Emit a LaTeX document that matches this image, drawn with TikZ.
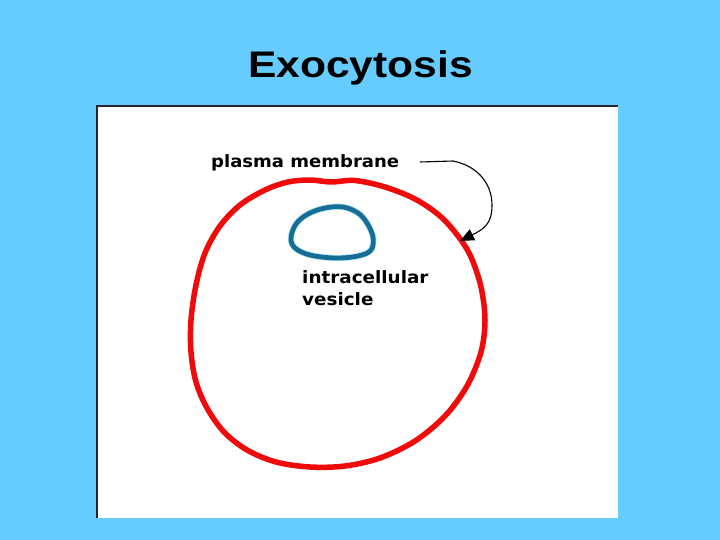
\documentclass[tikz,border=0pt]{standalone}
\usepackage{fontspec}
\usepackage{graphicx}
\setmainfont{Liberation Sans}
\newfontfamily\labelfont{DejaVu Sans}
\usetikzlibrary{arrows.meta}
\definecolor{slidebg}{RGB}{102,204,255}
\definecolor{membred}{RGB}{240,10,10}
\definecolor{vesblue}{RGB}{22,110,150}
\definecolor{veshalo}{RGB}{190,238,250}
\tikzset{
  lbl/.style={inner sep=0pt, font=\labelfont\bfseries\fontsize{17}{20}\selectfont, text=black},
  ttl/.style={inner sep=0pt, font=\bfseries\fontsize{37}{40}\selectfont, text=black},
  pointer/.style={line width=1.1pt, -{Triangle[length=14pt,width=12pt]}}
}
\begin{document}
\begin{tikzpicture}[x=1pt,y=-1pt]
\useasboundingbox (0,0) rectangle (720,540);
\fill[slidebg] (0,0) rectangle (720,540);
% white panel with dark top-left edge
\fill[white] (96,105) rectangle (618,518);
\draw[black!85, line width=2.5pt] (97.2,518) -- (97.2,106.2) -- (618,106.2);
% title
\node[ttl, anchor=base] (title) at (360.5,78) {\scalebox{1.15}[1]{Exocytosis}};
% cell membrane
\draw[membred, line width=5.5pt, line join=round] plot[smooth cycle, tension=0.55] coordinates {
 (331,182) (310,180) (288,182) (265,190) (240,205) (220,226) (205,253) (196,285) (191,320)
 (191,352) (196,382) (207,408) (224,432) (247,450) (276,462) (310,467) (345,466) (380,458)
 (415,441) (445,416) (467,386) (481,352) (485,320) (481,287) (471,257) (458,236) (440,216)
 (415,199) (385,187) (355,180.5)};
% vesicle
\foreach \c/\w in {veshalo/6.5pt, vesblue/4.8pt}{
\draw[\c, line width=\w] plot[smooth cycle, tension=0.6] coordinates {
 (291,238) (296,224) (308,214) (325,208) (343,207) (358,213) (367,223) (373,237)
 (371,250) (358,256) (335,258) (310,255) (295,248)};
}
% labels
\node[lbl, anchor=base west] (pm) at (211,168) {\scalebox{1.06}[1]{plasma membrane}};
\node[lbl, anchor=base west] (iv1) at (302,283) {\scalebox{1.08}[1]{intracellular}};
\node[lbl, anchor=base west] (iv2) at (302,305) {\scalebox{1.08}[1]{vesicle}};
% arrow
\coordinate (arrstart) at (420,162);
\coordinate (arrtip) at (460,241);
\draw[pointer] (arrstart) -- (453,161) .. controls (478,166) and (492,184) .. (492,205)
  .. controls (492,224) and (484,229) .. (arrtip);
\end{tikzpicture}
\end{document}
